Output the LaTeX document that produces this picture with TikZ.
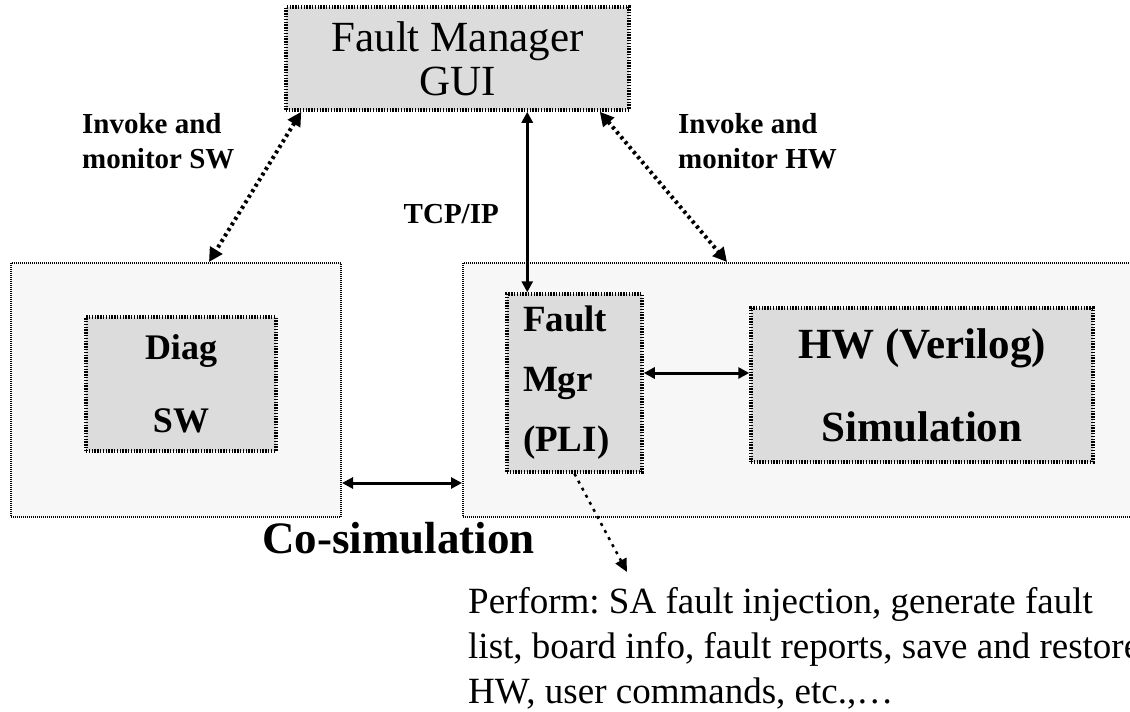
\documentclass[tikz,border=0pt]{standalone}
\usepackage{fontspec}
\setmainfont{Liberation Serif}
\usetikzlibrary{arrows.meta}
\frenchspacing
\definecolor{boxgray}{HTML}{DCDCDC}
\definecolor{panelgray}{HTML}{F7F7F7}
\newcommand{\fsz}[2]{\fontsize{#1}{#2}\selectfont}
\tikzset{
  inbox/.style={draw, fill=boxgray, line width=3.5pt, dash pattern=on 1.4pt off 1.4pt, inner sep=0pt, align=center},
  outbox/.style={draw, fill=panelgray, line width=2pt, dash pattern=on 1pt off 1pt, inner sep=0pt},
  solidlink/.style={line width=3pt, {Triangle[length=11pt,width=11pt]}-{Triangle[length=11pt,width=11pt]}},
  dotlink/.style={line width=4pt, dash pattern=on 3pt off 3.5pt, {Triangle[length=14pt,width=14pt]}-{Triangle[length=14pt,width=14pt]}},
  notelink/.style={line width=2.5pt, dash pattern=on 3pt off 5pt, -{Triangle[length=13pt,width=12pt]}},
  lbl/.style={inner sep=0pt, align=left, font=\bfseries\fsz{29}{35}}
}
\begin{document}
\begin{tikzpicture}[x=1pt,y=-1pt]
  \useasboundingbox (0,0) rectangle (1130,712);
  %% panels
  \node[outbox, minimum width=330pt, minimum height=254pt] (swbox) at (176,390) {};
  \node[outbox, minimum width=677pt, minimum height=254pt] (hwbox) at (801.5,390) {};
  %% boxes
  \node[inbox, minimum width=343pt, minimum height=103pt, font=\fsz{43}{44}] (gui) at (457.5,58.5) {Fault Manager\\GUI};
  \node[inbox, minimum width=190pt, minimum height=134pt, font=\bfseries\fsz{36}{73}] (diag) at (181,384) {Diag\\SW};
  \node[inbox, minimum width=135pt, minimum height=178pt, text width=103pt, align=left, font=\bfseries\fsz{37}{60}] (fmgr) at (574.5,383) {Fault\\Mgr\\(PLI)};
  \node[inbox, minimum width=342pt, minimum height=154pt, font=\bfseries\fsz{43}{83}] (hwsim) at (922,385) {HW (Verilog)\\Simulation};
  %% labels
  \node[lbl, anchor=base west] (invsw) at (82,168) {Invoke and\\monitor SW};
  \node[lbl, anchor=base west] (invhw) at (678,168) {Invoke and\\monitor HW};
  \node[lbl, anchor=base east] (tcp) at (499,223) {TCP/IP};
  \node[inner sep=0pt, anchor=base east, font=\bfseries\fsz{45}{50}] (cosim) at (535,553) {Co-simulation};
  \node[inner sep=0pt, anchor=base west, align=left, font=\fsz{37}{45}] (perform) at (468,703) {Perform: SA fault injection, generate fault\\list, board info, fault reports, save and restore\\HW, user commands, etc.,…};
  %% links
  \coordinate (tcpin) at ([xshift=22pt]fmgr.north west);
  \coordinate (notetip) at (627,572);
  \draw[dotlink] ([xshift=17pt]gui.south west) -- ([xshift=199pt]swbox.north west);
  \draw[dotlink] ([xshift=-31pt]gui.south east) -- ([xshift=265pt]hwbox.north west);
  \draw[solidlink] (tcpin |- gui.south) -- (tcpin);
  \draw[solidlink] ([yshift=10pt]fmgr.east) -- ([yshift=10pt]fmgr.east -| hwsim.west);
  \draw[solidlink] ([yshift=-93pt]swbox.east) -- ([yshift=-93pt]swbox.east -| hwbox.west);
  \draw[notelink] (fmgr.south) -- (notetip);
\end{tikzpicture}
\end{document}
